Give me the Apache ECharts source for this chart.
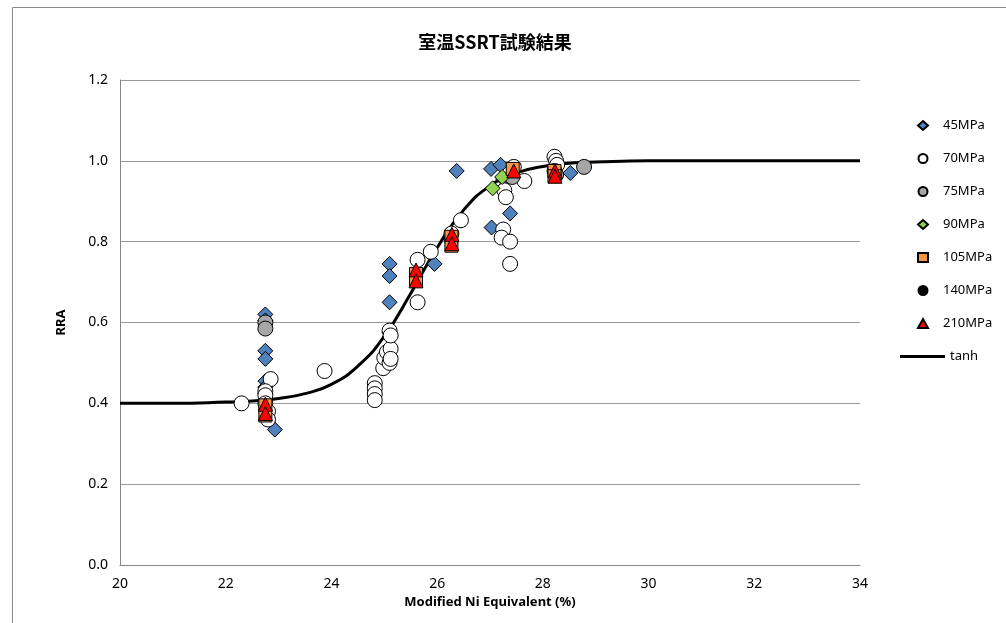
<!DOCTYPE html>
<html>
<head>
<meta charset="utf-8">
<script src="https://cdn.jsdelivr.net/npm/echarts@6/dist/echarts.min.js"></script>
<style>
  html, body { margin: 0; padding: 0; background: #fff; }
  #main { width: 1006px; height: 623px; }
</style>
</head>
<body>
<div id="main"></div>
<script>
var dom = document.getElementById("main");
var myChart = echarts.init(dom);

// 測定値 [Modified Ni Equivalent, RRA]
var p45 = [
    [22.75, 0.62], [22.75, 0.605], [22.75, 0.53], [22.75, 0.51], [22.75, 0.455],
    [22.75, 0.44], [22.75, 0.425], [22.93, 0.335], [25.1, 0.745], [25.1, 0.715],
    [25.1, 0.65], [25.1, 0.575], [25.95, 0.745], [26.37, 0.975], [27.02, 0.98],
    [27.2, 0.99], [27.03, 0.835], [27.38, 0.87], [27.25, 0.955], [28.52, 0.97]
];
var p70 = [
    [22.3, 0.40], [22.85, 0.46], [22.75, 0.43], [22.75, 0.42], [22.75, 0.40],
    [22.8, 0.38], [22.8, 0.36], [23.87, 0.48], [24.82, 0.45], [24.82, 0.437],
    [24.82, 0.423], [24.82, 0.408], [24.98, 0.487], [25.0, 0.513], [25.05, 0.527],
    [25.1, 0.50], [25.12, 0.535], [25.12, 0.51], [25.1, 0.58], [25.12, 0.568],
    [25.63, 0.755], [25.63, 0.65], [25.88, 0.775], [26.27, 0.82], [26.45, 0.853],
    [27.27, 0.927], [27.3, 0.91], [27.65, 0.95], [27.25, 0.83], [27.22, 0.81],
    [27.38, 0.80], [27.38, 0.745], [28.22, 1.01], [28.25, 1.0], [28.27, 0.99],
    [28.22, 0.975], [27.45, 0.985]
];
var p75 = [[22.75, 0.60], [22.75, 0.585], [27.42, 0.96], [28.78, 0.985], [28.25, 0.965]];
var p90 = [[27.05, 0.932], [27.23, 0.96]];
var p105 = [
    [22.75, 0.395], [22.75, 0.37], [25.6, 0.72], [25.6, 0.705], [26.27, 0.812],
    [26.27, 0.79], [27.43, 0.98], [28.22, 0.975], [28.22, 0.962]
];
var p140 = [[22.75, 0.395], [28.22, 0.975]];
var p210 = [
    [22.75, 0.398], [22.75, 0.375], [25.6, 0.73], [25.6, 0.703], [26.28, 0.818],
    [26.28, 0.795], [27.45, 0.975], [28.23, 0.975], [28.23, 0.962]
];

// tanh 近似曲線
var tanhX = [20, 21, 22, 22.5, 23, 23.5, 24, 24.5, 25, 25.5, 26, 26.5, 27, 27.5, 28, 28.5, 29, 30, 34];
var tanhY = [0.400, 0.400, 0.403, 0.406, 0.412, 0.424, 0.447, 0.492, 0.566, 0.672, 0.785, 0.878, 0.938, 0.970, 0.986, 0.994, 0.997, 1.0, 1.0];

var xTicks = [20, 22, 24, 26, 28, 30, 32, 34];
var yTicks = [0.0, 0.2, 0.4, 0.6, 0.8, 1.0, 1.2];
var pointNames = ['45MPa', '70MPa', '75MPa', '90MPa', '105MPa', '140MPa', '210MPa'];

var tanhData = tanhX.map(function (x, i) { return [x, tanhY[i]]; });

function pts(name, data, symbol, size, color, z) {
    return {
        name: name,
        type: 'scatter',
        data: data,
        symbol: symbol,
        symbolSize: size,
        z: z || 3,
        itemStyle: { color: color, borderColor: '#000', borderWidth: 1, opacity: 1 },
        emphasis: { disabled: true }
    };
}

var font = '"Noto Sans", "Open Sans", sans-serif';

option = {
    animation: false,
    backgroundColor: '#fff',
    title: {
        text: '室温SSRT試験結果',
        left: 490,
        top: 28,
        textAlign: 'center',
        textStyle: { fontSize: 18, fontWeight: 'bold', color: '#000', fontFamily: '"Noto Sans CJK JP", sans-serif' }
    },
    graphic: [{
        type: 'rect',
        shape: { x: 12.5, y: 7.5, width: 1000, height: 620 },
        style: { fill: 'none', stroke: '#888', lineWidth: 1 },
        silent: true
    }],
    legend: [{
        orient: 'vertical',
        left: 917,
        top: 119,
        padding: 0,
        itemWidth: 10,
        itemHeight: 9,
        itemGap: 20,
        textStyle: { fontSize: 13, color: '#000', fontFamily: font, padding: [0, 0, 0, 10] },
        data: pointNames
    }, {
        orient: 'vertical',
        left: 900,
        top: 350,
        padding: 0,
        itemWidth: 45,
        itemHeight: 3,
        textStyle: { fontSize: 13, color: '#000', fontFamily: font },
        data: [{ name: 'tanh', icon: 'rect' }]
    }],
    grid: { left: 120, right: 146, top: 80, bottom: 58 },
    xAxis: {
        type: 'value',
        min: 20, max: 34, interval: 2,
        name: 'Modified Ni Equivalent (%)',
        nameLocation: 'middle',
        nameGap: 23,
        nameTextStyle: { fontSize: 13, fontWeight: 'bold', color: '#000', fontFamily: font },
        axisLine: { show: true, lineStyle: { color: '#868686' } },
        axisTick: { show: false },
        splitLine: { show: false },
        axisLabel: {
            margin: 12, fontSize: 14, color: '#000', fontFamily: font,
            formatter: function (v) { return xTicks.indexOf(v) >= 0 ? String(v) : ''; }
        }
    },
    yAxis: {
        type: 'value',
        min: 0, max: 1.2, interval: 0.2,
        name: 'RRA',
        nameLocation: 'middle',
        nameGap: 52,
        nameTextStyle: { fontSize: 13, fontWeight: 'bold', color: '#000', fontFamily: font },
        axisLine: { show: true, lineStyle: { color: '#868686' } },
        axisTick: { show: false },
        splitLine: { show: true, lineStyle: { color: '#9a9a9a', width: 1 } },
        axisLabel: {
            margin: 12, fontSize: 14, color: '#000', fontFamily: font,
            formatter: function (v) {
                var t = yTicks.filter(function (y) { return Math.abs(y - v) < 1e-6; });
                return t.length ? t[0].toFixed(1) : '';
            }
        }
    },
    series: [
        {
            name: 'tanh',
            type: 'line',
            data: tanhData,
            smooth: true,
            symbol: 'none',
            z: 2,
            lineStyle: { color: '#000', width: 3 },
            itemStyle: { color: '#000' },
            emphasis: { disabled: true }
        },
        pts('45MPa', p45, 'diamond', 15, '#4F81BD'),
        pts('70MPa', p70, 'circle', 15, '#fff'),
        pts('75MPa', p75, 'circle', 15, '#A6A6A6'),
        pts('90MPa', p90, 'diamond', 15, '#92D050'),
        pts('105MPa', p105, 'rect', 13, '#F79646', 4),
        pts('140MPa', p140, 'circle', 11, '#000', 1),
        pts('210MPa', p210, 'triangle', 14, '#FF0000', 5)
    ]
};

if (option && typeof option === "object") {
    myChart.setOption(option, true);
}
</script>
</body>
</html>
